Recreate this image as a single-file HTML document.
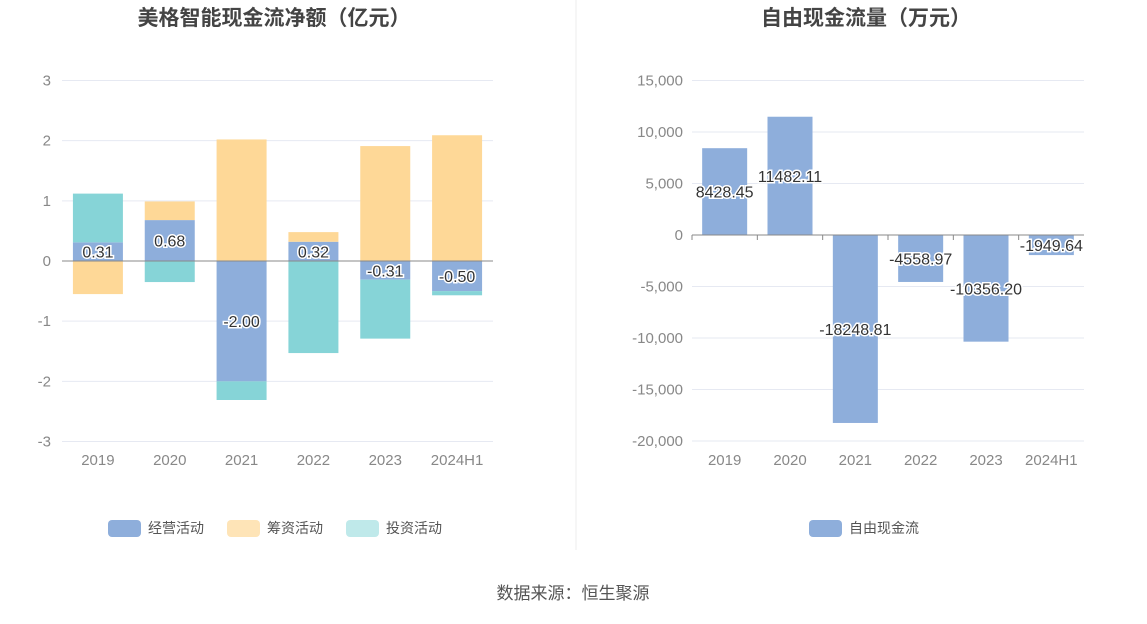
<!DOCTYPE html>
<html><head><meta charset="utf-8"><style>
body{margin:0;background:#fff;font-family:"Liberation Sans","Noto Sans CJK SC",sans-serif;}
svg text{font-family:"Liberation Sans","Noto Sans CJK SC",sans-serif;}
</style></head><body>
<svg id="c" width="1147" height="619">
<text x="274" y="25" text-anchor="middle" font-size="21" font-weight="bold" fill="#444">美格智能现金流净额（亿元）</text>
<text x="866" y="25" text-anchor="middle" font-size="21" font-weight="bold" fill="#444">自由现金流量（万元）</text>
<line x1="576" y1="0" x2="576" y2="550" stroke="#eee"/>
<g id="L"></g><g id="R"></g>
<g>
<rect x="108" y="520" width="33" height="17" rx="4" fill="#8eaedb"/>
<text x="148" y="533" font-size="14" fill="#555">经营活动</text>
<rect x="227" y="520" width="33" height="17" rx="4" fill="#fee4b7"/>
<text x="267" y="533" font-size="14" fill="#555">筹资活动</text>
<rect x="346" y="520" width="33" height="17" rx="4" fill="#bfe9ea"/>
<text x="386" y="533" font-size="14" fill="#555">投资活动</text>
</g>
<g>
<rect x="809" y="520" width="33" height="17" rx="4" fill="#8eaedb"/>
<text x="849" y="533" font-size="14" fill="#555">自由现金流</text>
</g>
<text x="573" y="599" text-anchor="middle" font-size="17" fill="#555">数据来源：恒生聚源</text>
</svg>
<script>
const categories=["2019","2020","2021","2022","2023","2024H1"];
const operating=[0.31,0.68,-2.00,0.32,-0.31,-0.50];
const financing=[-0.55,0.31,2.02,0.16,1.91,2.09];
const investing=[0.81,-0.35,-0.31,-1.53,-0.98,-0.07];
const leftTicks=[3,2,1,0,-1,-2,-3];
const fcf=[8428.45,11482.11,-18248.81,-4558.97,-10356.20,-1949.64];
const rightTicks=[15000,10000,5000,0,-5000,-10000,-15000,-20000];
const NS="http://www.w3.org/2000/svg";
function mk(p,t,a,txt){const e=document.createElementNS(NS,t);for(const k in a)e.setAttribute(k,a[k]);if(txt!=null)e.textContent=txt;p.appendChild(e);return e;}
const L=document.getElementById('L');
const lx0=62,lx1=493,ly=v=>261-v*60.17,lbw=(lx1-lx0)/categories.length;
leftTicks.forEach(t=>{const g=mk(L,'line',{x1:lx0,x2:lx1,y1:ly(t),y2:ly(t),stroke:t===0?'#888':'#e6e9f2'});

const tx=mk(L,'text',{x:51,y:ly(t)+5,'text-anchor':'end','font-size':15,fill:'#888'},String(t));
});
const series=[[operating,'#8eaedb','operating'],[financing,'#fed897','financing'],[investing,'#86d4d7','investing']];
categories.forEach((c,i)=>{let pos=0,neg=0;const cx=lx0+lbw*(i+0.5),bw=50;
series.forEach(([arr,col,nm])=>{const v=arr[i];let a,b;if(v>=0){a=pos;b=pos+v;pos=b;}else{a=neg;b=neg+v;neg=b;}
const r=mk(L,'rect',{x:cx-bw/2,y:Math.min(ly(a),ly(b)),width:bw,height:Math.abs(ly(a)-ly(b)),fill:col});
});
const v=operating[i];const t=mk(L,'text',{x:cx,y:ly(v/2)+6,'text-anchor':'middle','font-size':16,fill:'#333',stroke:'#fff','stroke-width':3,'paint-order':'stroke'},v.toFixed(2));

const xl=mk(L,'text',{x:cx,y:465,'text-anchor':'middle','font-size':15,fill:'#888'},c);
});
mk(L,'line',{x1:lx0,x2:lx1,y1:ly(0),y2:ly(0),stroke:'#888'});
const R=document.getElementById('R');
const rx0=692,rx1=1084,ry=v=>235-v*0.0103,rbw=(rx1-rx0)/categories.length;
rightTicks.forEach(t=>{const g=mk(R,'line',{x1:rx0,x2:rx1,y1:ry(t),y2:ry(t),stroke:'#e6e9f2'});

const tx=mk(R,'text',{x:683,y:ry(t)+5,'text-anchor':'end','font-size':15,fill:'#888'},t.toLocaleString('en-US'));
});
categories.forEach((c,i)=>{const cx=rx0+rbw*(i+0.5),bw=45,v=fcf[i];
const r=mk(R,'rect',{x:cx-bw/2,y:Math.min(ry(0),ry(v)),width:bw,height:Math.abs(ry(v)-ry(0)),fill:'#8eaedb'});

const t=mk(R,'text',{x:cx,y:ry(v/2)+6,'text-anchor':'middle','font-size':16,fill:'#333',stroke:'#fff','stroke-width':3,'paint-order':'stroke'},v.toFixed(2));

const xl=mk(R,'text',{x:cx,y:465,'text-anchor':'middle','font-size':15,fill:'#888'},c);

mk(R,'line',{x1:rx0+rbw*i,x2:rx0+rbw*i,y1:235,y2:240,stroke:'#888'});});
mk(R,'line',{x1:rx0,x2:rx1,y1:235,y2:235,stroke:'#888'});
</script>
</body></html>
